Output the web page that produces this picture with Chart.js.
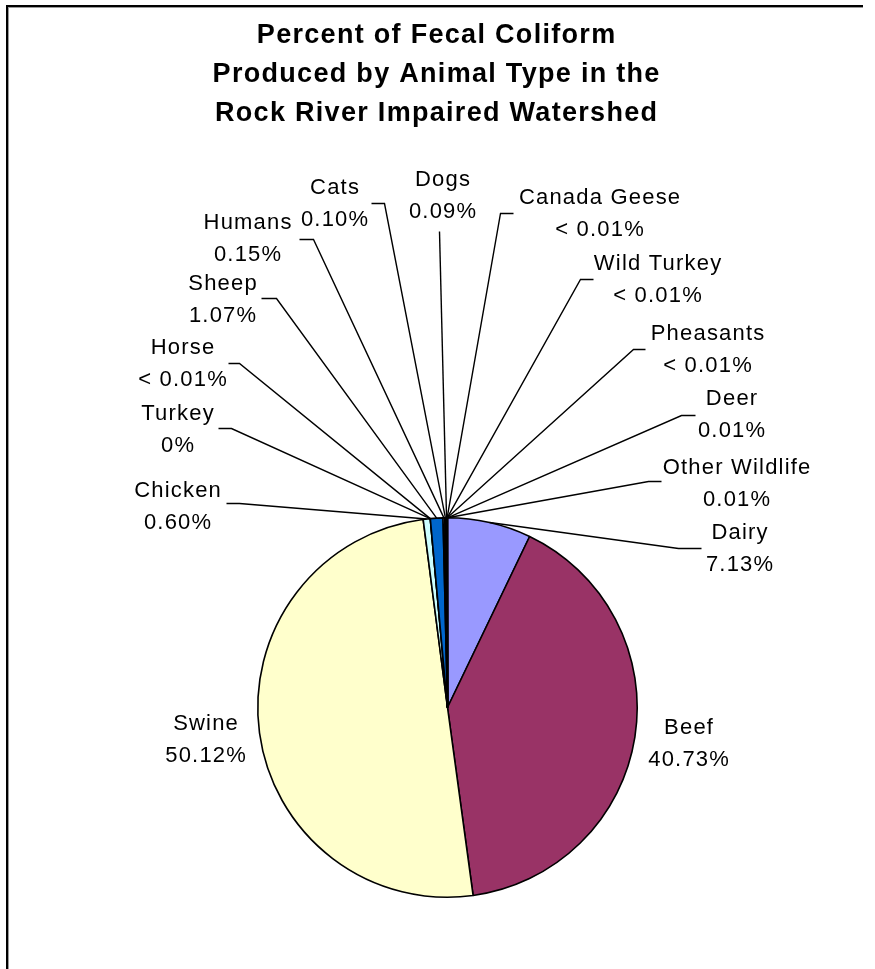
<!DOCTYPE html>
<html>
<head>
<meta charset="utf-8">
<script src="https://cdn.jsdelivr.net/npm/chart.js@4.4.1/dist/chart.umd.min.js"></script>
<style>
  html, body { margin: 0; padding: 0; background: #ffffff; }
  #wrap { position: relative; width: 875px; height: 969px; }
  canvas { display: block; }
</style>
</head>
<body>
<div id="wrap"><canvas id="chart" width="875" height="969"></canvas></div>
<script>
// ---------- data ----------
const titleLines = [
  "Percent of Fecal Coliform",
  "Produced by Animal Type in the",
  "Rock River Impaired Watershed"
];
const categories = [
  "Dairy", "Beef", "Swine", "Chicken", "Turkey", "Horse", "Sheep", "Humans",
  "Cats", "Dogs", "Canada Geese", "Wild Turkey", "Pheasants", "Deer", "Other Wildlife"
];
// percent of fecal coliform ("< 0.01%" slices estimated as 0.005)
const percentValues = [
  7.13, 40.73, 50.12, 0.60, 0, 0.005, 1.07, 0.15,
  0.10, 0.09, 0.005, 0.005, 0.005, 0.01, 0.01
];

// ---------- styles ----------
const sliceColors = [
  "#9999FF", "#993366", "#FFFFCC", "#CCFFFF", "#660066", "#FF8080", "#0066CC", "#CCCCFF",
  "#000080", "#FF00FF", "#FFFF00", "#00FFFF", "#800080", "#800000", "#008080"
];

// label placement, offsets in px from the pie centre:
// [labelCentreDx, labelCentreDy, stubEndDx, stubEndDy, bendDx]  (null = no leader line)
const labelLayout = [
  [292, -161, 253, -160, 230],     // Dairy
  [241, 34, null, null, null],     // Beef
  [-242, 30, null, null, null],    // Swine
  [-270, -203, -222, -205, -209],  // Chicken
  [-270, -280, -230, -280, -217],  // Turkey
  [-265, -346, -220, -345, -209],  // Horse
  [-225, -410, -187, -410, -172],  // Sheep
  [-200, -471, -149, -469, -135],  // Humans
  [-113, -506, -77, -505, -64],    // Cats
  [-5, -514, -9, -477, -9],        // Dogs
  [152, -496, 65, -495, 52],       // Canada Geese
  [210, -430, 145, -429, 132],     // Wild Turkey
  [260, -360, 197, -359, 185],     // Pheasants
  [284, -295, 247, -293, 233],     // Deer
  [289, -226, 213, -227, 200]      // Other Wildlife
];

function pctText(v) {
  if (v === 0) return "0%";
  if (v < 0.01) return "< 0.01%";
  return v.toFixed(2) + "%";
}

const LABEL_FONT = '22px "Liberation Sans", Arial, sans-serif';
const TITLE_FONT = 'bold 27px "Liberation Sans", Arial, sans-serif';

function drawCenteredText(ctx, text, x, y, spacing) {
  ctx.letterSpacing = spacing + "px";
  ctx.textAlign = "center";
  ctx.fillText(text, x + spacing / 2, y);
}

const decorPlugin = {
  id: "decor",
  afterDraw(chart) {
    const ctx = chart.ctx;
    ctx.save();

    // chart frame (left & top edges with shadow)
    ctx.fillStyle = "#000000";
    ctx.fillRect(6, 5, 857, 2);
    ctx.fillRect(6, 5, 2, chart.height - 5);
    ctx.fillStyle = "#9a9a9a";
    ctx.fillRect(8, 7, 855, 1);
    ctx.fillRect(8, 7, 1, chart.height - 7);

    // title
    ctx.fillStyle = "#000000";
    ctx.font = TITLE_FONT;
    ctx.textBaseline = "alphabetic";
    const titleX = 436;
    titleLines.forEach((line, i) => {
      drawCenteredText(ctx, line, titleX, 43 + i * 39, 1.3);
    });

    // leader lines and data labels
    const meta = chart.getDatasetMeta(0);
    ctx.font = LABEL_FONT;
    ctx.strokeStyle = "#000000";
    ctx.lineWidth = 1.4;
    meta.data.forEach((arc, i) => {
      const L = labelLayout[i];
      const cx = arc.x, cy = arc.y;
      if (L[2] !== null) {
        const mid = (arc.startAngle + arc.endAngle) / 2;
        const px = cx + Math.cos(mid) * arc.outerRadius;
        const py = cy + Math.sin(mid) * arc.outerRadius;
        const ex = Math.round(cx + L[2]) + 0.5;
        const ey = Math.round(cy + L[3]) + 0.5;
        const bx = Math.round(cx + L[4]) + 0.5;
        ctx.beginPath();
        ctx.moveTo(ex, ey);
        ctx.lineTo(bx, ey);
        ctx.lineTo(px, py);
        ctx.stroke();
      }
      const lx = cx + L[0], ly = cy + L[1];
      ctx.fillStyle = "#000000";
      ctx.textBaseline = "alphabetic";
      drawCenteredText(ctx, categories[i], lx, ly - 16 + 8, 1.2);
      drawCenteredText(ctx, pctText(percentValues[i]), lx, ly + 16 + 8, 1.2);
    });
    ctx.restore();
  }
};

new Chart(document.getElementById("chart"), {
  type: "pie",
  data: {
    labels: categories,
    datasets: [{
      data: percentValues,
      backgroundColor: sliceColors,
      borderColor: "#000000",
      borderWidth: 1.6
    }]
  },
  options: {
    responsive: false,
    animation: false,
    devicePixelRatio: 1,
    layout: { padding: { left: 257, top: 517, right: 237, bottom: 71 } },
    plugins: {
      legend: { display: false },
      title: { display: false },
      tooltip: { enabled: false }
    }
  },
  plugins: [decorPlugin]
});
</script>
</body>
</html>
